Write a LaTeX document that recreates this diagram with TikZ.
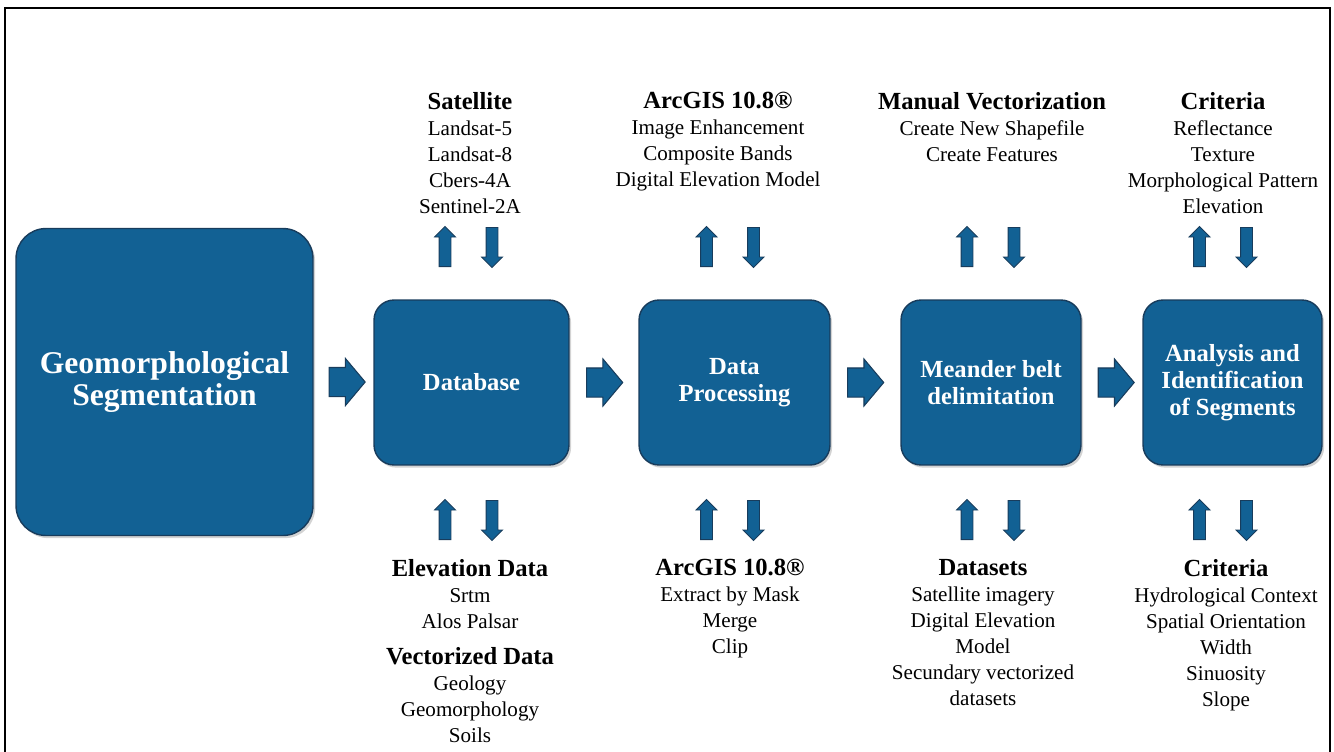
\documentclass[tikz,border=0pt]{standalone}
\usepackage{fontspec}
\setmainfont{Liberation Serif}
\usetikzlibrary{shapes, arrows, positioning, calc, shadows}

\definecolor{boxblue}{RGB}{18,97,148}
\definecolor{edgeblue}{RGB}{24,60,92}

\newcommand{\blocktitle}[1]{{\fontsize{14}{15}\selectfont\bfseries #1}}

\begin{document}
\begin{tikzpicture}[x=0.02cm, y=-0.02cm]
	\tikzstyle{box_style}=[rectangle, rounded corners=0.4cm, draw=edgeblue, fill=boxblue, line width=0.8pt, text=white, align=center, inner sep=0pt, font=\fontsize{14}{15.2}\selectfont\bfseries, drop shadow={shadow xshift=1.2pt, shadow yshift=-1.5pt, opacity=0.35}]
	\tikzstyle{flow_style}=[single arrow, anchor=tail, draw=edgeblue, fill=boxblue, line width=0.6pt, inner xsep=0pt, inner ysep=0.28cm, minimum height=0.72cm, single arrow head extend=0.18cm, single arrow tip angle=100]
	\tikzstyle{up_style}=[single arrow, anchor=tail, shape border rotate=90, draw=edgeblue, fill=boxblue, line width=0.5pt, inner sep=0.11cm, minimum height=0.8cm, single arrow head extend=0.09cm, single arrow tip angle=90]
	\tikzstyle{down_style}=[up_style, shape border rotate=270]
	\tikzstyle{text_style}=[align=center, inner sep=0pt, font=\fontsize{12}{14.8}\selectfont]

	\useasboundingbox (0,0) rectangle (1334,751);
	\draw[line width=1.2pt] (5,8) rectangle (1330,800);

	% main boxes
	\node at (164.5, 382) [box_style, rounded corners=0.6cm, minimum width=5.94cm, minimum height=6.14cm, font=\fontsize{18}{18.5}\selectfont\bfseries] (segmentation) {Geomorphological\\Segmentation};
	\node at (471.5, 382.5) [box_style, minimum width=3.9cm, minimum height=3.3cm] (database) {Database};
	\node at (734.5, 382.5) [box_style, minimum width=3.82cm, minimum height=3.3cm] (processing) {Data\\Processing};
	\node at (991, 382.5) [box_style, minimum width=3.6cm, minimum height=3.3cm] (meander) {Meander belt\\delimitation};
	\node at (1232.5, 382.5) [box_style, minimum width=3.58cm, minimum height=3.3cm] (analysis) {Analysis and\\Identification\\of Segments};

	% flow arrows
	\node at ([xshift=0.3cm]segmentation.east) [flow_style] (flow_1) {};
	\node at ([xshift=0.33cm]database.east) [flow_style] (flow_2) {};
	\node at ([xshift=0.33cm]processing.east) [flow_style] (flow_3) {};
	\node at ([xshift=0.32cm]meander.east) [flow_style] (flow_4) {};

	% up and down arrows
	\foreach \n/\x in {database/468.5, processing/730, meander/990.5, analysis/1223}
	{
		\node at (\x-23.5, 267) [up_style] (\n_up_top) {};
		\node at (\x+23.5, 227) [down_style] (\n_down_top) {};
		\node at (\x-23.5, 540) [up_style] (\n_up_bottom) {};
		\node at (\x+23.5, 500) [down_style] (\n_down_bottom) {};
	}

	% inputs above
	\node at (470, 92) [text_style, anchor=north] (satellite) {\blocktitle{Satellite}\\Landsat-5\\Landsat-8\\Cbers-4A\\Sentinel-2A};
	\node at (718, 92) [text_style, anchor=north] (arcgis_top) {\blocktitle{ArcGIS 10.8®}\\Image Enhancement\\Composite Bands\\Digital Elevation Model};
	\node at (992, 92) [text_style, anchor=north] (vectorization) {\blocktitle{Manual Vectorization}\\Create New Shapefile\\Create Features};
	\node at (1223, 92) [text_style, anchor=north] (criteria_top) {\blocktitle{Criteria}\\Reflectance\\Texture\\Morphological Pattern\\Elevation};

	% inputs below
	\node at (470, 559) [text_style, anchor=north] (elevation) {\blocktitle{Elevation Data}\\Srtm\\Alos Palsar\\[6pt]\blocktitle{Vectorized Data}\\Geology\\Geomorphology\\Soils};
	\node at (730, 559) [text_style, anchor=north] (arcgis_bottom) {\blocktitle{ArcGIS 10.8®}\\Extract by Mask\\Merge\\Clip};
	\node at (983, 559) [text_style, anchor=north] (datasets) {\blocktitle{Datasets}\\Satellite imagery\\Digital Elevation\\Model\\Secundary vectorized\\datasets};
	\node at (1226, 559) [text_style, anchor=north] (criteria_bottom) {\blocktitle{Criteria}\\Hydrological Context\\Spatial Orientation\\Width\\Sinuosity\\Slope};
\end{tikzpicture}
\end{document}
